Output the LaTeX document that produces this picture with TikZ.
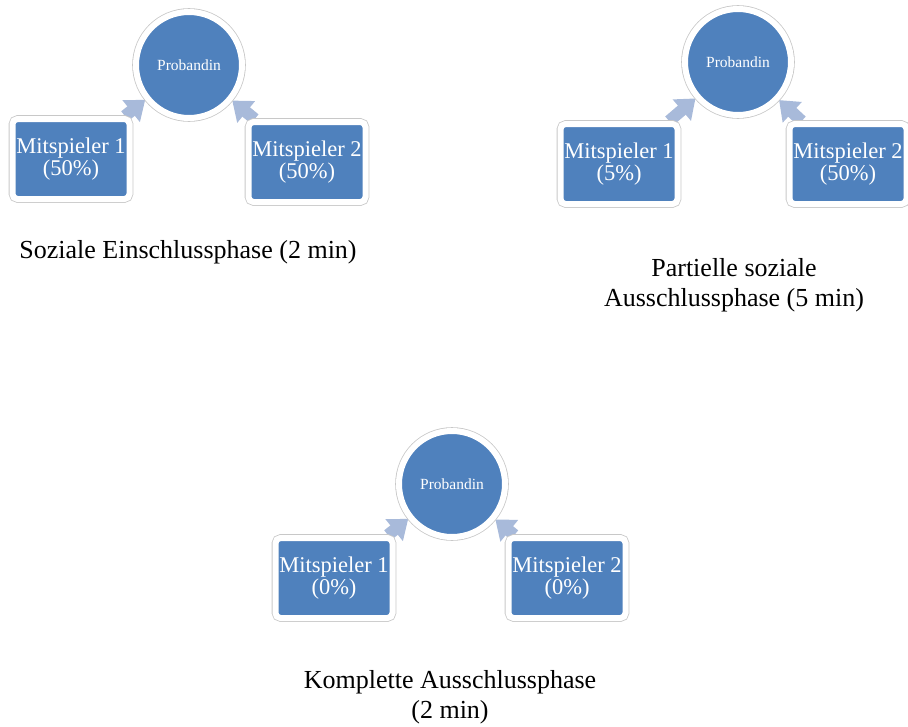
\documentclass[tikz,border=0pt]{standalone}
\usepackage{fontspec}
\setmainfont{Liberation Serif}
\definecolor{dgblue}{RGB}{79,129,189}
\definecolor{dglight}{RGB}{168,186,218}
\definecolor{dggray}{RGB}{200,200,200}
\usetikzlibrary{arrows.meta,backgrounds}

\begin{document}
\begin{tikzpicture}[x=1pt, y=-1pt,
  rahmen/.style={fill=dgblue, draw=white, line width=6pt, preaction={draw=dggray, line width=7.6pt}, text=white, inner sep=0pt, align=center},
  probandin/.style={rahmen, circle, minimum size=106pt, font=\fontsize{15.5}{18}\selectfont},
  spieler/.style={rahmen, rectangle, rounded corners=5pt, minimum width=117pt, minimum height=80pt, font=\fontsize{22.5}{22}\selectfont},
  pfeil/.style={dglight, line width=12pt, -{Triangle[length=18pt,width=27pt]}, shorten >=0pt},
  phase/.style={align=center, font=\fontsize{26}{30}\selectfont}]
  \useasboundingbox (0,0) rectangle (908,726);

  \node[probandin] (p1) at (189,65) {Probandin};
  \node[spieler] (s11) at (71,159) {Mitspieler 1\\(50\%)};
  \node[spieler] (s12) at (307,162) {Mitspieler 2\\(50\%)};
  \node[phase] (t1) at (188,252) {Soziale Einschlussphase (2 min)};

  \node[probandin] (p2) at (738,62) {Probandin};
  \node[spieler] (s21) at (619,164) {Mitspieler 1\\(5\%)};
  \node[spieler] (s22) at (848,164) {Mitspieler 2\\(50\%)};
  \node[phase] (t2) at (734,285) {Partielle soziale\\Ausschlussphase (5 min)};

  \node[probandin] (p3) at (452,484) {Probandin};
  \node[spieler] (s31) at (334,578) {Mitspieler 1\\(0\%)};
  \node[spieler] (s32) at (567,578) {Mitspieler 2\\(0\%)};
  \node[phase] (t3) at (450,697) {Komplette Ausschlussphase\\(2 min)};

  \begin{scope}[on background layer]
    \foreach \i in {1,2,3} {
      \draw[pfeil] (s\i1) -- (p\i);
      \draw[pfeil] (s\i2) -- (p\i);
    }
  \end{scope}
\end{tikzpicture}
\end{document}
